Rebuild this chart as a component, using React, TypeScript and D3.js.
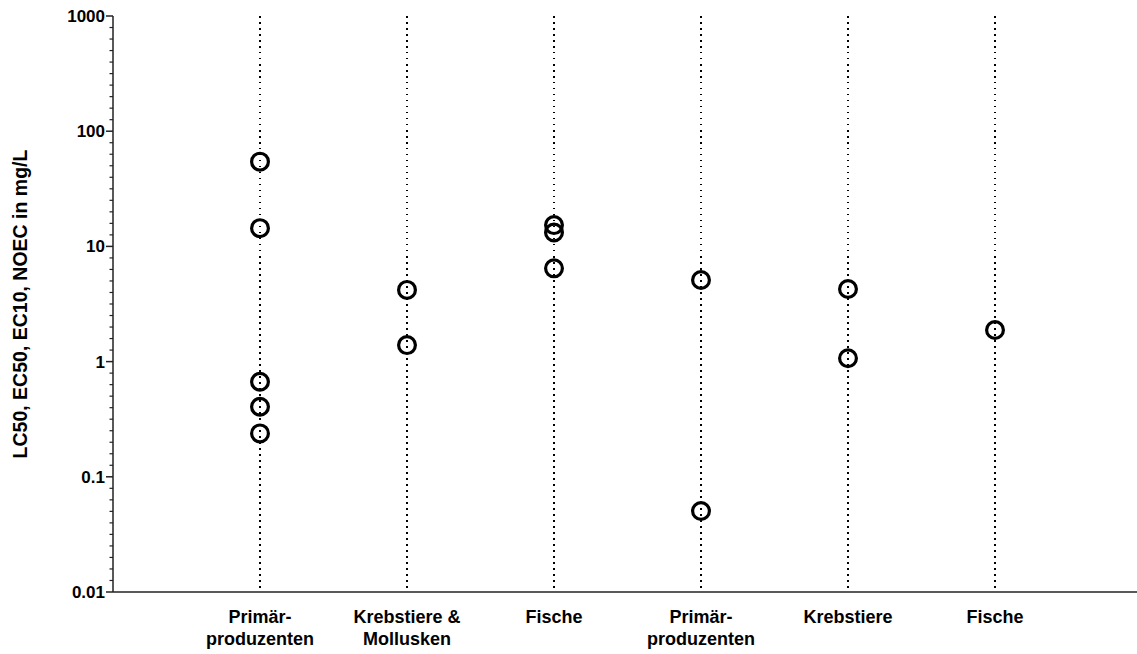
import React from "react";
import * as d3 from "d3";

const categoryIds = ["c1", "c2", "c3", "c4", "c5", "c6"];
const categoryLines = [
  ["Primär-", "produzenten"],
  ["Krebstiere &", "Mollusken"],
  ["Fische"],
  ["Primär-", "produzenten"],
  ["Krebstiere"],
  ["Fische"],
];
const values1 = [54.4, 14.4, 0.669, 0.406, 0.238];
const values2 = [4.19, 1.39];
const values3 = [15.3, 13.2, 6.45];
const values4 = [5.11, 0.0505];
const values5 = [4.27, 1.07];
const values6 = [1.88];
const seriesValues = [values1, values2, values3, values4, values5, values6];
const yTicks = [0.01, 0.1, 1, 10, 100, 1000];
const yTickLabels = ["0.01", "0.1", "1", "10", "100", "1000"];
const yLabel = "LC50, EC50, EC10, NOEC in mg/L";

const W = 1137;
const H = 654;
const left = 113;
const top = 16;
const bottom = 592;
const font = "'Liberation Sans', Arial, sans-serif";

export default function App() {
  const y = d3.scaleLog().domain([0.01, 1000]).range([bottom, top]);
  const x = d3.scalePoint<string>().domain(categoryIds).range([left, 1142]).padding(1);

  const minor: number[] = [];
  for (let d = -2; d < 3; d++) {
    for (let k = 1; k < 10; k++) minor.push(Math.pow(10, d + k / 10));
  }

  return (
    <svg width={W} height={H} style={{ position: "absolute", left: 0, top: 0, background: "#fff" }}>
      {categoryIds.map((id) => (
        <line key={"g" + id} x1={x(id)} x2={x(id)} y1={y(1000)} y2={y(0.01)}
          stroke="#000" strokeWidth={1.5} strokeDasharray="1.5 4.5" shapeRendering="crispEdges" />
      ))}
      {minor.map((v, i) => (
        <line key={"m" + i} x1={left - 3.5} x2={left} y1={y(v)} y2={y(v)} stroke="#222" strokeWidth={1.2} />
      ))}
      {yTicks.map((v, i) => (
        <g key={"t" + i}>
          <line x1={left - 7} x2={left} y1={y(v)} y2={y(v)} stroke="#222" strokeWidth={1.5} />
          <text x={105} y={y(v)} dy="0.35em" textAnchor="end" fontFamily={font} fontWeight="bold" fontSize={17} fill="#000">
            {yTickLabels[i]}
          </text>
        </g>
      ))}
      <line x1={left} x2={left} y1={top} y2={bottom} stroke="#222" strokeWidth={1.5} />
      <line x1={left} x2={W} y1={bottom} y2={bottom} stroke="#222" strokeWidth={1.5} />
      {seriesValues.map((vals, ci) =>
        vals.map((v, j) => (
          <circle key={ci + "-" + j} cx={x(categoryIds[ci])} cy={y(v)} r={8.4}
            fill="none" stroke="#000" strokeWidth={3.2} />
        ))
      )}
      {categoryLines.map((lines, ci) => (
        <text key={"xl" + ci} x={x(categoryIds[ci])} textAnchor="middle" fontFamily={font}
          fontWeight="bold" fontSize={18} fill="#000">
          {lines.map((l, li) => (
            <tspan key={li} x={x(categoryIds[ci])} y={623 + li * 21.5}>{l}</tspan>
          ))}
        </text>
      ))}
      <text transform={`translate(27,${(top + bottom) / 2}) rotate(-90)`} textAnchor="middle"
        fontFamily={font} fontWeight="bold" fontSize={19.5} fill="#000">
        {yLabel}
      </text>
    </svg>
  );
}
